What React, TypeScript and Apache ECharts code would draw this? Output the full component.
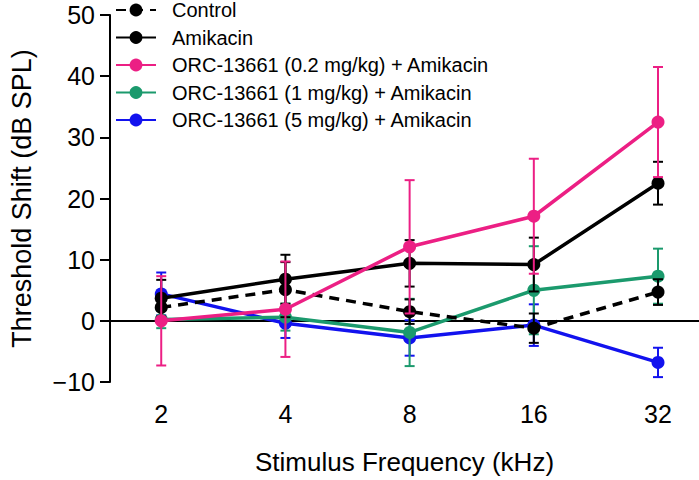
import React, { useEffect, useRef } from "react";
import * as echarts from "echarts";

const FREQS = [2, 4, 8, 16, 32];

const CONTROL = [2.2, 5.1, 1.5, -1.2, 4.7];
const CONTROL_ERR = [1.9, 4.5, 2.0, 2.4, 2.1];
const AMIKACIN = [3.7, 6.8, 9.4, 9.2, 22.5];
const AMIKACIN_ERR = [3.0, 4.0, 3.8, 4.4, 3.5];
const ORC_02 = [0.0, 1.9, 12.1, 17.1, 32.5];
const ORC_02_ERR = [7.3, 7.8, 10.9, 9.4, 9.0];
const ORC_1 = [0.2, 0.6, -1.9, 5.0, 7.3];
const ORC_1_ERR = [1.4, 2.2, 5.5, 7.2, 4.5];
const ORC_5 = [4.4, -0.4, -2.8, -0.7, -6.8];
const ORC_5_ERR = [3.5, 2.4, 2.9, 3.4, 2.4];

const Y_MIN = -10;
const Y_MAX = 50;
const Y_STEP = 10;

const FONT = "'Liberation Sans', Arial, Helvetica, sans-serif";

type Spec = {
  name: string;
  values: number[];
  errs: number[];
  color: string;
  dashed?: boolean;
  z: number;
};

const SPECS: Spec[] = [
  { name: "Control", values: CONTROL, errs: CONTROL_ERR, color: "#000000", dashed: true, z: 6 },
  { name: "Amikacin", values: AMIKACIN, errs: AMIKACIN_ERR, color: "#000000", z: 7 },
  { name: "ORC-13661 (0.2 mg/kg) + Amikacin", values: ORC_02, errs: ORC_02_ERR, color: "#EC1F84", z: 8 },
  { name: "ORC-13661 (1 mg/kg) + Amikacin", values: ORC_1, errs: ORC_1_ERR, color: "#1B9A6D", z: 5 },
  { name: "ORC-13661 (5 mg/kg) + Amikacin", values: ORC_5, errs: ORC_5_ERR, color: "#1212EE", z: 4 },
];

// axis ends (log2 scale) so that the frequencies sit where the reference has them
const X_MIN = Math.pow(2, 0.5875);
const X_MAX = Math.pow(2, 5.33);

export default function App() {
  const ref = useRef<HTMLDivElement>(null);

  useEffect(() => {
    if (!ref.current) return;
    const chart = echarts.init(ref.current, null, { renderer: "svg" });

    const series: any[] = [];
    SPECS.forEach((s) => {
      series.push({
        name: s.name + " error",
        type: "custom",
        z: s.z,
        silent: true,
        data: FREQS.map((f, i) => [f, s.values[i], s.errs[i]]),
        renderItem: (params: any, api: any) => {
          const x = api.value(0);
          const y = api.value(1);
          const e = api.value(2);
          const top = api.coord([x, y + e]);
          const bot = api.coord([x, y - e]);
          const cw = 5;
          const st = { stroke: s.color, lineWidth: 2 };
          return {
            type: "group",
            children: [
              { type: "line", shape: { x1: top[0], y1: top[1], x2: bot[0], y2: bot[1] }, style: st },
              { type: "line", shape: { x1: top[0] - cw, y1: top[1], x2: top[0] + cw, y2: top[1] }, style: st },
              { type: "line", shape: { x1: bot[0] - cw, y1: bot[1], x2: bot[0] + cw, y2: bot[1] }, style: st },
            ],
          };
        },
      });
      const line: any = {
        name: s.name,
        type: "line",
        z: s.z,
        data: FREQS.map((f, i) => [f, s.values[i]]),
        symbol: "circle",
        symbolSize: 13,
        showSymbol: true,
        itemStyle: { color: s.color },
        lineStyle: {
          color: s.color,
          width: 3.5,
          type: s.dashed ? [10, 7] : "solid",
        },
      };
      if (s.name === SPECS[4].name) {
        line.markLine = {
          silent: true,
          symbol: ["none", "none"],
          label: { show: false },
          lineStyle: { color: "#000", width: 2, type: "solid" },
          data: [{ yAxis: 0 }],
          z: 1,
        };
      }
      series.push(line);
    });

    chart.setOption({
      animation: false,
      backgroundColor: "#ffffff",
      textStyle: { fontFamily: FONT },
      grid: { left: 90, right: 0, top: 15, bottom: 88 },
      legend: {
        data: SPECS.map((s) => s.name),
        orient: "vertical",
        left: 110,
        top: -5,
        itemWidth: 40,
        itemHeight: 16,
        itemGap: 7.5,
        textStyle: { fontSize: 20, color: "#000", fontFamily: FONT, padding: [0, 0, 0, 11] },
      },
      xAxis: {
        type: "log",
        logBase: 2,
        min: X_MIN,
        max: X_MAX,
        name: "Stimulus Frequency (kHz)",
        nameLocation: "middle",
        nameGap: 67,
        nameTextStyle: { fontSize: 26, color: "#000", fontFamily: FONT },
        axisLine: { show: false },
        axisTick: { show: false },
        splitLine: { show: false },
        axisLabel: {
          customValues: FREQS,
          fontSize: 25,
          color: "#000",
          margin: 19,
          fontFamily: FONT,
          formatter: (v: number) => String(Math.round(v)),
        },
      },
      yAxis: {
        type: "value",
        min: Y_MIN,
        max: Y_MAX,
        interval: Y_STEP,
        name: "Threshold Shift (dB SPL)",
        nameLocation: "middle",
        nameGap: 75,
        nameTextStyle: { fontSize: 27, color: "#000", fontFamily: FONT },
        axisLine: { show: true, lineStyle: { color: "#000", width: 2 } },
        axisTick: { show: true, length: 10, lineStyle: { color: "#000", width: 2 } },
        splitLine: { show: false },
        axisLabel: {
          fontSize: 25,
          color: "#000",
          margin: 15,
          fontFamily: FONT,
          formatter: (v: number) => (v < 0 ? "\u2212" + Math.abs(v) : String(v)),
        },
      },
      series,
    });

    return () => chart.dispose();
  }, []);

  return (
    <div
      ref={ref}
      style={{ position: "absolute", left: 0, top: 0, width: 699, height: 480 }}
    />
  );
}
